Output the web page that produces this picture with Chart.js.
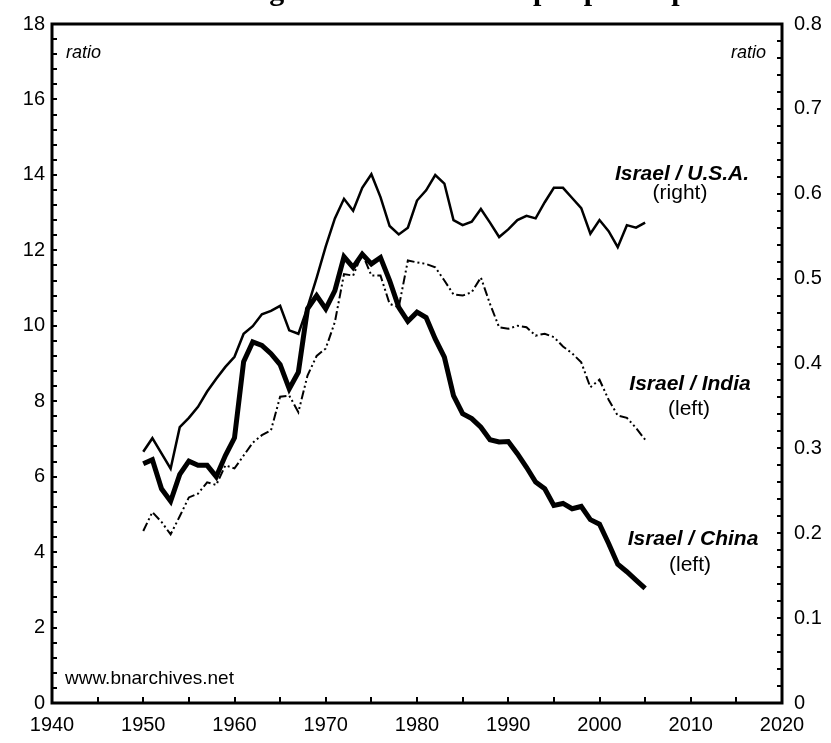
<!DOCTYPE html>
<html>
<head>
<meta charset="utf-8">
<script src="https://cdn.jsdelivr.net/npm/chart.js@4.4.1/dist/chart.umd.min.js"></script>
<style>
  html, body { margin: 0; padding: 0; background: #ffffff; }
  #wrap { width: 831px; height: 743px; position: relative; }
  canvas { display: block; }
</style>
</head>
<body>
<div id="wrap"><canvas id="c" width="831" height="743"></canvas></div>
<script>
// ---- data ----
const years = [1950,1951,1952,1953,1954,1955,1956,1957,1958,1959,
               1960,1961,1962,1963,1964,1965,1966,1967,1968,1969,
               1970,1971,1972,1973,1974,1975,1976,1977,1978,1979,
               1980,1981,1982,1983,1984,1985,1986,1987,1988,1989,
               1990,1991,1992,1993,1994,1995,1996,1997,1998,1999,
               2000,2001,2002,2003,2004,2005];

// Israel / U.S.A. (right axis)
const israelUSA = [0.296,0.312,0.294,0.276,0.325,0.336,0.349,0.367,0.382,0.396,
                   0.408,0.435,0.444,0.458,0.462,0.468,0.439,0.435,0.466,0.501,
                   0.538,0.571,0.594,0.580,0.607,0.623,0.596,0.562,0.552,0.560,
                   0.592,0.604,0.622,0.612,0.569,0.563,0.567,0.582,0.566,0.549,
                   0.558,0.569,0.574,0.571,0.590,0.607,0.607,0.595,0.583,0.553,
                   0.569,0.556,0.537,0.563,0.560,0.566];

// Israel / India (left axis)
const israelIndia = [4.56,5.06,4.80,4.47,4.95,5.45,5.55,5.85,5.78,6.30,
                     6.22,6.56,6.90,7.10,7.23,8.12,8.15,7.71,8.68,9.20,
                     9.40,10.10,11.37,11.33,11.92,11.33,11.33,10.58,10.49,11.73,
                     11.68,11.64,11.55,11.20,10.83,10.80,10.89,11.28,10.58,9.96,
                     9.92,10.00,9.96,9.74,9.79,9.70,9.45,9.27,9.03,8.37,
                     8.57,8.04,7.62,7.56,7.29,6.98];

// Israel / China (left axis)
const israelChina = [6.34,6.45,5.68,5.35,6.06,6.41,6.30,6.30,6.00,6.56,
                     7.03,9.05,9.57,9.48,9.26,8.97,8.33,8.77,10.45,10.80,
                     10.45,10.93,11.83,11.55,11.90,11.64,11.81,11.20,10.49,10.12,
                     10.36,10.22,9.65,9.17,8.15,7.67,7.54,7.31,6.98,6.92,
                     6.93,6.61,6.25,5.86,5.68,5.24,5.29,5.15,5.21,4.86,
                     4.74,4.23,3.68,3.48,3.26,3.04];

// axis ranges / tick labels
const xRange = [1940, 2020];
const xLabelStep = 10;
const leftRange = [0, 18];
const leftLabelStep = 2;
const rightRange = [0, 0.8];
const rightLabelStep = 0.1;

const titleText = "Israel\u2019s Long-Term Relative Output per Capita";
const sansFont = "'Liberation Sans', Arial, Helvetica, sans-serif";

function pts(vals) { return years.map((y, i) => ({ x: y, y: vals[i] })); }

const decorPlugin = {
  id: 'decor',
  afterDraw(chart) {
    const ctx = chart.ctx;
    const a = chart.chartArea;
    const xs = chart.scales.x, yl = chart.scales.y, yr = chart.scales.y1;
    ctx.save();
    ctx.strokeStyle = '#000';
    // inward minor ticks
    ctx.lineWidth = 2;
    ctx.beginPath();
    for (let i = 0; i <= 45; i++) {
      const p = Math.round(yl.getPixelForValue(i * 0.4));
      ctx.moveTo(a.left, p); ctx.lineTo(a.left + 5, p);
    }
    for (let i = 0; i <= 40; i++) {
      const p = Math.round(yr.getPixelForValue(i * 0.02));
      ctx.moveTo(a.right, p); ctx.lineTo(a.right - 5, p);
    }
    for (let v = xRange[0]; v <= xRange[1]; v += 5) {
      const p = Math.round(xs.getPixelForValue(v));
      ctx.moveTo(p, a.bottom); ctx.lineTo(p, a.bottom - 6);
    }
    ctx.stroke();
    // frame
    ctx.lineWidth = 3;
    ctx.strokeRect(a.left, a.top, a.right - a.left, a.bottom - a.top);

    // texts
    ctx.fillStyle = '#000';
    ctx.textBaseline = 'alphabetic';
    ctx.font = 'italic 18px ' + sansFont;
    ctx.textAlign = 'left';
    ctx.fillText('ratio', a.left + 14, a.top + 34);
    ctx.textAlign = 'right';
    ctx.fillText('ratio', a.right - 16, a.top + 34);

    ctx.textAlign = 'left';
    ctx.font = '19px ' + sansFont;
    ctx.fillText('www.bnarchives.net', a.left + 13, a.bottom - 19);

    ctx.textAlign = 'center';
    ctx.font = 'bold italic 21px ' + sansFont;
    ctx.fillText('Israel / U.S.A.', 682, 180);
    ctx.fillText('Israel / India', 690, 390);
    ctx.fillText('Israel / China', 693, 545);
    ctx.font = '21px ' + sansFont;
    ctx.fillText('(right)', 680, 199);
    ctx.fillText('(left)', 689, 415);
    ctx.fillText('(left)', 690, 571);

    // title (only its descenders fall inside the picture)
    ctx.font = 'bold 30px "Liberation Serif", "Times New Roman", serif';
    ctx.textAlign = 'left';
    const pre = titleText.slice(0, titleText.indexOf('Outp') + 3);
    const startX = 533 - ctx.measureText(pre).width;
    ctx.fillText(titleText, startX, 0);
    ctx.restore();
  }
};

const tickFont = { family: sansFont, size: 20 };

new Chart(document.getElementById('c'), {
  type: 'line',
  data: {
    datasets: [
      {
        label: 'Israel / U.S.A. (right)',
        data: pts(israelUSA),
        yAxisID: 'y1',
        borderColor: '#000',
        borderWidth: 2.5,
        pointRadius: 0,
        tension: 0
      },
      {
        label: 'Israel / India (left)',
        data: pts(israelIndia),
        yAxisID: 'y',
        borderColor: '#000',
        borderWidth: 2,
        borderDash: [9, 3, 2, 3, 2, 3],
        pointRadius: 0,
        tension: 0
      },
      {
        label: 'Israel / China (left)',
        data: pts(israelChina),
        yAxisID: 'y',
        borderColor: '#000',
        borderWidth: 5,
        pointRadius: 0,
        tension: 0
      }
    ]
  },
  options: {
    responsive: false,
    animation: false,
    devicePixelRatio: 1,
    layout: { padding: { top: 23, left: 0, right: 0, bottom: 0 } },
    plugins: {
      legend: { display: false },
      tooltip: { enabled: false },
      title: { display: false }
    },
    scales: {
      x: {
        type: 'linear',
        min: xRange[0], max: xRange[1],
        grid: { display: false, drawTicks: false },
        border: { display: false },
        ticks: {
          stepSize: xLabelStep, color: '#000', font: tickFont, padding: 10,
          maxRotation: 0, autoSkip: false,
          callback: v => String(v)
        },
        afterFit: s => { s.height = 40; }
      },
      y: {
        position: 'left',
        min: leftRange[0], max: leftRange[1],
        grid: { display: false, drawTicks: false },
        border: { display: false },
        ticks: { stepSize: leftLabelStep, color: '#000', font: tickFont, padding: 7,
                 callback: v => String(v) },
        afterFit: s => { s.width = 52; }
      },
      y1: {
        position: 'right',
        min: rightRange[0], max: rightRange[1],
        grid: { display: false, drawTicks: false },
        border: { display: false },
        ticks: { stepSize: rightLabelStep, color: '#000', font: tickFont, padding: 12,
                 callback: v => (Math.abs(v) < 1e-9 ? '0' : (+v.toFixed(1)).toString()) },
        afterFit: s => { s.width = 49; }
      }
    }
  },
  plugins: [decorPlugin]
});
</script>
</body>
</html>
